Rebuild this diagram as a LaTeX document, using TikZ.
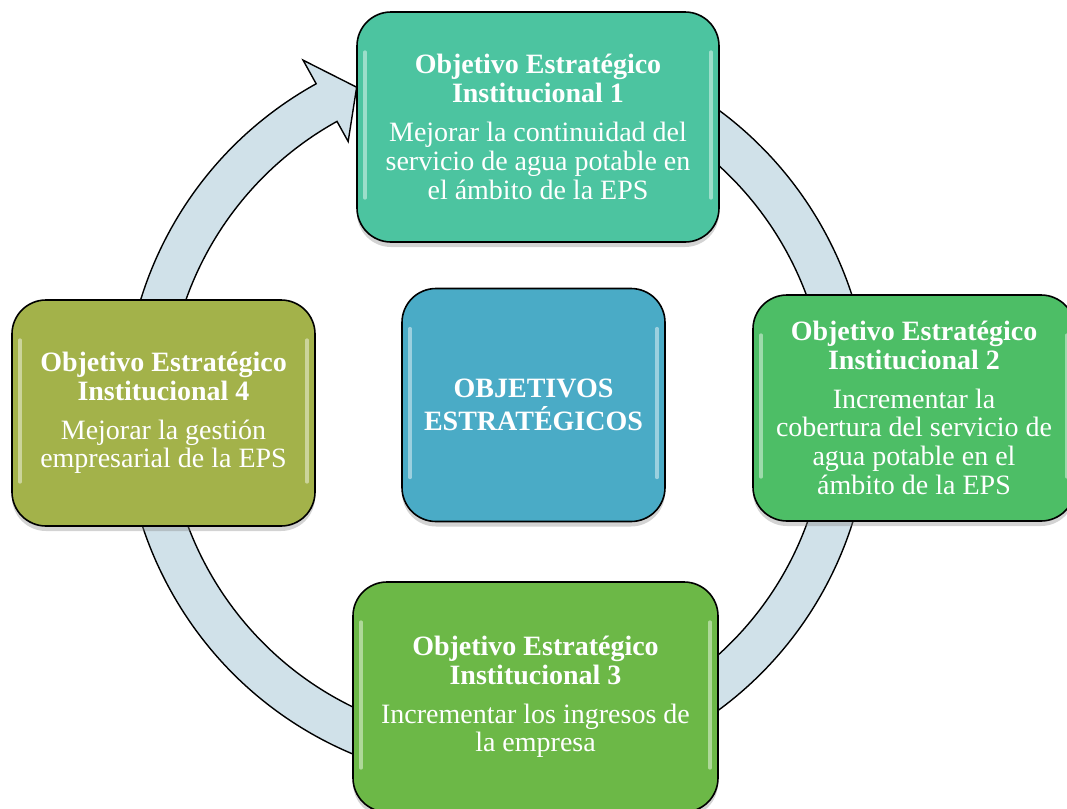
\documentclass[tikz,border=0pt]{standalone}
\usepackage{fontspec}
\setmainfont{Liberation Serif}
\usetikzlibrary{shadows}
\definecolor{ringcol}{RGB}{208,225,233}
\definecolor{objcol1}{RGB}{76,196,160}
\definecolor{objcol2}{RGB}{77,190,102}
\definecolor{objcol3}{RGB}{108,184,71}
\definecolor{objcol4}{RGB}{163,178,74}
\definecolor{centercol}{RGB}{74,171,198}
\begin{document}
\begin{tikzpicture}[x=0.5pt,y=0.5pt]
\tikzstyle{objbox}=[draw=black, line width=0.8pt, rounded corners=17pt, text=white, align=center,
  font={\fontsize{14}{14.4}\selectfont}, inner sep=0pt,
  drop shadow={opacity=0.35, shadow xshift=0pt, shadow yshift=-2.5pt},
  path picture={
    \draw[white, opacity=0.45, line width=1.6pt, line cap=round]
      ([xshift=4pt,yshift=-20pt]path picture bounding box.north west) --
      ([xshift=4pt,yshift=22pt]path picture bounding box.south west);
    \draw[white, opacity=0.45, line width=1.6pt, line cap=round]
      ([xshift=-4pt,yshift=-20pt]path picture bounding box.north east) --
      ([xshift=-4pt,yshift=22pt]path picture bounding box.south east);}]
\tikzstyle{ring}=[draw=black, line width=0.7pt, fill=ringcol]
\useasboundingbox (0,0) rectangle (1067,-809);
% circular arrow behind the boxes
\coordinate (ctr) at (497,-410);
\begin{scope}[shift={(ctr)}]
\draw[ring] (119:373) arc[start angle=119, end angle=440, radius=373] -- (440:330)
  arc[start angle=440, end angle=119, radius=330] -- (119:307) -- (113.5:352) -- (119:400) -- cycle;
\end{scope}
% boxes
\node[objbox, fill=objcol1, minimum width=181pt, minimum height=115pt] (obj1) at (538,-127)
  {\textbf{Objetivo Estratégico}\\\textbf{Institucional 1}\\[5pt]Mejorar la continuidad del\\servicio de agua potable en\\el ámbito de la EPS};
\node[objbox, fill=objcol2, minimum width=161pt, minimum height=113pt] (obj2) at (914,-408)
  {\textbf{Objetivo Estratégico}\\\textbf{Institucional 2}\\[5pt]Incrementar la\\cobertura del servicio de\\agua potable en el\\ámbito de la EPS};
\node[objbox, fill=objcol3, minimum width=182.5pt, minimum height=115pt] (obj3) at (535.5,-697)
  {\textbf{Objetivo Estratégico}\\\textbf{Institucional 3}\\[5pt]Incrementar los ingresos de\\la empresa};
\node[objbox, fill=objcol4, minimum width=151.5pt, minimum height=113pt] (obj4) at (163.5,-413)
  {\textbf{Objetivo Estratégico}\\\textbf{Institucional 4}\\[5pt]Mejorar la gestión\\empresarial de la EPS};
\node[objbox, fill=centercol, minimum width=131.5pt, minimum height=116.5pt,
  font={\fontsize{14}{16.5}\selectfont\bfseries}] (center) at (533.5,-405)
  {OBJETIVOS\\ESTRATÉGICOS};
\end{tikzpicture}
\end{document}
